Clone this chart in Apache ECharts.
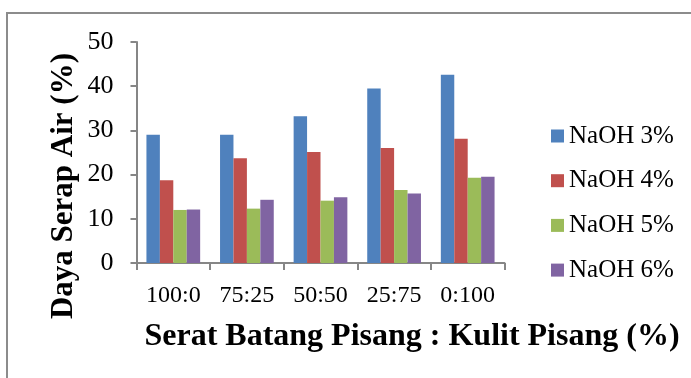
<!DOCTYPE html>
<html>
<head>
<meta charset="utf-8">
<style>
  html, body { margin: 0; padding: 0; background: #fff; }
  #chart { width: 691px; height: 378px; }
</style>
<script src="https://cdn.jsdelivr.net/npm/echarts@6/dist/echarts.min.js"></script>
</head>
<body>
<div id="chart"></div>
<script>
// Fibre mix ratios (banana stem : banana peel)
const categories = ['100:0', '75:25', '50:50', '25:75', '0:100'];

// Water absorption (%) per NaOH concentration
const naoh3 = [29.0, 29.0, 33.2, 39.5, 42.6];
const naoh4 = [18.7, 23.7, 25.1, 26.0, 28.1];
const naoh5 = [12.0, 12.3, 14.1, 16.5, 19.3];
const naoh6 = [12.1, 14.3, 14.9, 15.7, 19.5];

const seriesNames = ['NaOH 3%', 'NaOH 4%', 'NaOH 5%', 'NaOH 6%'];
const seriesData = [naoh3, naoh4, naoh5, naoh6];
const colors = ['#4F81BD', '#C0504D', '#9BBB59', '#8064A2'];

const yTicks = { min: 0, max: 50, interval: 10 };

const serif = '"Liberation Serif", "Times New Roman", serif';
const axisGray = '#868686';

const chart = echarts.init(document.getElementById('chart'), null, { renderer: 'canvas' });

chart.setOption({
  animation: false,
  backgroundColor: '#ffffff',
  color: colors,
  grid: { left: 136.5, right: 186.5, top: 42, bottom: 115, containLabel: false },
  legend: {
    orient: 'vertical',
    left: 546,
    top: 118.5,
    itemWidth: 13,
    itemHeight: 13,
    itemGap: 19.7,
    icon: 'rect',
    data: seriesNames,
    textStyle: { fontFamily: serif, fontSize: 25, color: '#000', lineHeight: 25 }
  },
  xAxis: {
    type: 'category',
    data: categories,
    axisLine: { lineStyle: { color: axisGray, width: 2 } },
    axisTick: { show: true, length: 7, lineStyle: { color: axisGray, width: 2 } },
    axisLabel: { fontFamily: serif, fontSize: 24, color: '#000', margin: 21 }
  },
  yAxis: {
    type: 'value',
    min: yTicks.min,
    max: yTicks.max,
    interval: yTicks.interval,
    splitLine: { show: false },
    axisLine: { show: true, lineStyle: { color: axisGray, width: 2 } },
    axisTick: { show: true, length: 6, lineStyle: { color: axisGray, width: 2 } },
    axisLabel: { fontFamily: serif, fontSize: 26, color: '#000', margin: 23 }
  },
  series: seriesNames.map((name, i) => ({
    name: name,
    type: 'bar',
    data: seriesData[i],
    barGap: '0%',
    barCategoryGap: '27%',
    itemStyle: { color: colors[i] }
  })),
  graphic: [
    {
      type: 'rect',
      silent: true,
      shape: { x: 7, y: 13, width: 720, height: 420 },
      style: { fill: 'none', stroke: '#8c8c8c', lineWidth: 2 }
    },
    {
      type: 'text',
      silent: true,
      x: 63.5,
      y: 186,
      rotation: Math.PI / 2,
      style: {
        text: 'Daya Serap Air (%)',
        font: 'bold 31px ' + serif,
        fill: '#000',
        textAlign: 'center',
        textVerticalAlign: 'middle'
      }
    },
    {
      type: 'text',
      silent: true,
      x: 412,
      y: 337,
      style: {
        text: 'Serat Batang Pisang : Kulit Pisang (%)',
        font: 'bold 32px ' + serif,
        fill: '#000',
        textAlign: 'center',
        textVerticalAlign: 'middle'
      }
    }
  ]
});
</script>
</body>
</html>
